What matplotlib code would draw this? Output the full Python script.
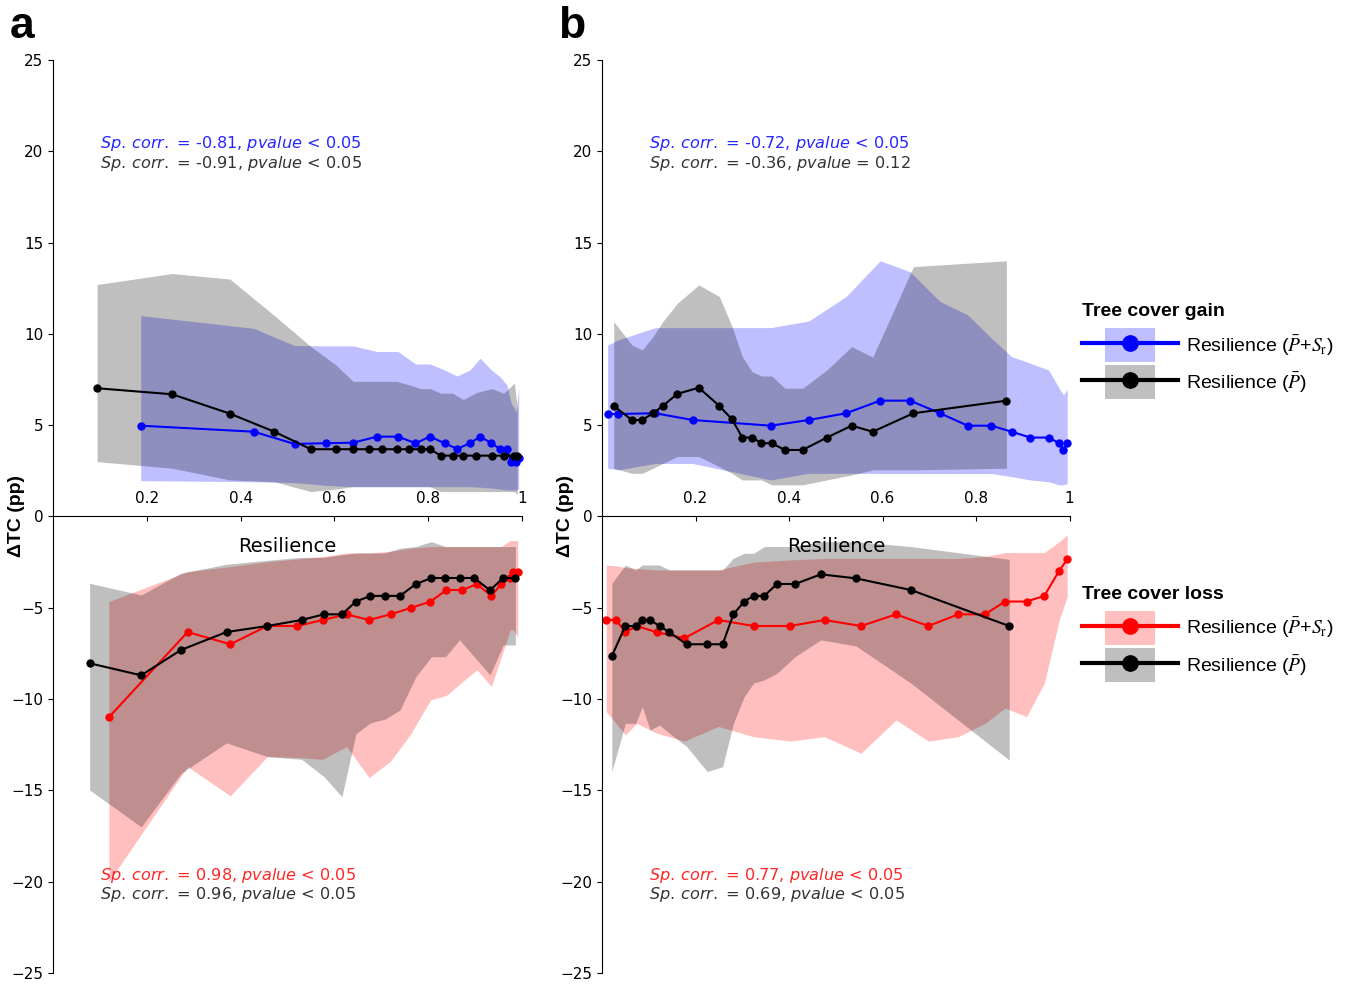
import matplotlib
matplotlib.use("Agg")
import matplotlib.pyplot as plt
import matplotlib.patches as mpatches
from matplotlib.lines import Line2D
from matplotlib.legend_handler import HandlerPatch

# ---------------- data ----------------
# panel a, tree cover gain
a_gain_sr_x = [0.187, 0.428, 0.515, 0.582, 0.640, 0.691, 0.736, 0.773, 0.804, 0.835,
               0.862, 0.889, 0.911, 0.935, 0.953, 0.968, 0.977, 0.988, 0.993]
a_gain_sr_y = [4.97, 4.64, 3.97, 4.01, 4.04, 4.37, 4.37, 4.01, 4.37, 4.01,
               3.70, 4.01, 4.37, 4.01, 3.70, 3.70, 3.0, 3.0, 3.2]
a_gain_sr_hi = [11.0, 10.3, 9.36, 9.34, 9.34, 9.03, 9.03, 8.35, 8.35, 8.02,
                7.69, 8.02, 8.66, 8.02, 7.66, 7.2, 6.2, 5.74, 7.04]
a_gain_sr_lo = [1.96, 1.9, 1.85, 1.7, 1.63, 1.63, 1.63, 1.63, 1.63, 1.63,
                1.63, 1.63, 1.6, 1.55, 1.5, 1.45, 1.45, 1.45, 1.5]

a_gain_p_x = [0.094, 0.254, 0.377, 0.472, 0.550, 0.603, 0.640, 0.674, 0.701, 0.733,
              0.760, 0.784, 0.804, 0.827, 0.852, 0.875, 0.903, 0.936, 0.961, 0.984, 0.990]
a_gain_p_y = [7.02, 6.69, 5.63, 4.64, 3.68, 3.68, 3.68, 3.68, 3.68, 3.68,
              3.68, 3.68, 3.68, 3.33, 3.33, 3.33, 3.33, 3.33, 3.33, 3.33, 3.33]
a_gain_p_hi = [12.7, 13.3, 13.0, 11.0, 9.3, 8.3, 7.4, 7.4, 7.4, 7.4,
               7.2, 7.0, 7.0, 6.75, 6.75, 6.4, 6.78, 7.0, 6.75, 7.3, 5.9]
a_gain_p_lo = [3.0, 2.64, 2.0, 1.9, 1.36, 1.5, 1.63, 1.63, 1.63, 1.63,
               1.63, 1.63, 1.63, 1.36, 1.36, 1.36, 1.36, 1.36, 1.36, 1.36, 1.2]

# panel a, tree cover loss
a_loss_sr_x = [0.119, 0.287, 0.378, 0.457, 0.521, 0.575, 0.626, 0.674, 0.720, 0.763,
               0.805, 0.839, 0.873, 0.904, 0.935, 0.956, 0.975, 0.981, 0.991]
a_loss_sr_y = [-11.0, -6.33, -7.0, -6.0, -6.0, -5.67, -5.36, -5.67, -5.36, -5.01,
               -4.66, -4.03, -4.03, -3.70, -4.35, -3.70, -3.37, -3.02, -3.02]
a_loss_sr_hi = [-4.66, -3.02, -2.75, -2.48, -2.33, -2.2, -2.0, -2.0, -1.9, -1.74,
                -1.65, -1.65, -1.65, -1.65, -1.65, -1.65, -1.32, -1.32, -1.32]
a_loss_sr_lo = [-20.0, -13.7, -15.3, -13.15, -13.2, -13.3, -12.6, -14.3, -13.4, -11.9,
                -10.05, -9.8, -9.05, -8.4, -9.3, -7.7, -6.2, -6.2, -6.6]

a_loss_p_x = [0.078, 0.188, 0.273, 0.370, 0.457, 0.530, 0.578, 0.616, 0.646, 0.677,
              0.708, 0.740, 0.774, 0.807, 0.837, 0.867, 0.898, 0.932, 0.960, 0.986]
a_loss_p_y = [-8.04, -8.70, -7.31, -6.33, -6.0, -5.67, -5.36, -5.36, -4.66, -4.35,
              -4.35, -4.35, -3.70, -3.37, -3.37, -3.37, -3.37, -4.04, -3.37, -3.37]
a_loss_p_hi = [-3.66, -4.3, -3.11, -2.62, -2.4, -2.24, -2.24, -2.1, -2.0, -2.0,
               -2.0, -1.74, -1.65, -1.38, -1.65, -1.65, -1.65, -1.65, -1.65, -1.65]
a_loss_p_lo = [-14.98, -17.0, -14.07, -12.4, -13.15, -13.3, -14.25, -15.35, -11.9, -11.3,
               -11.1, -10.6, -8.77, -7.68, -7.68, -6.76, -7.68, -8.68, -7.04, -7.04]

# panel b, tree cover gain
b_gain_sr_x = [0.012, 0.035, 0.114, 0.194, 0.361, 0.442, 0.522, 0.595, 0.659, 0.723,
               0.782, 0.833, 0.876, 0.916, 0.955, 0.978, 0.987, 0.995]
b_gain_sr_y = [5.61, 5.61, 5.65, 5.28, 4.97, 5.28, 5.65, 6.34, 6.34, 5.65,
               4.97, 4.97, 4.64, 4.32, 4.32, 4.01, 3.64, 4.01]
b_gain_sr_hi = [9.39, 9.67, 10.34, 10.34, 10.34, 10.7, 12.04, 14.0, 13.4, 11.77,
                11.04, 9.76, 8.75, 8.39, 8.02, 7.02, 6.65, 6.96]
b_gain_sr_lo = [2.64, 2.55, 2.9, 2.9, 2.0, 2.36, 2.36, 2.35, 2.35, 2.35,
                2.35, 2.35, 2.18, 2.0, 1.9, 1.73, 1.73, 1.8]

b_gain_p_x = [0.025, 0.064, 0.086, 0.109, 0.130, 0.161, 0.207, 0.251, 0.278, 0.300,
              0.321, 0.341, 0.363, 0.391, 0.429, 0.481, 0.534, 0.579, 0.666, 0.865]
b_gain_p_y = [6.05, 5.28, 5.28, 5.65, 6.05, 6.71, 7.05, 6.05, 5.32, 4.32,
              4.32, 4.01, 4.01, 3.64, 3.64, 4.32, 4.97, 4.64, 5.65, 6.34]
b_gain_p_hi = [10.67, 9.39, 9.12, 9.85, 10.67, 11.67, 12.68, 12.04, 10.4, 8.75,
               7.93, 7.69, 7.69, 7.02, 7.02, 8.02, 9.3, 8.72, 13.68, 14.0]
b_gain_p_lo = [2.64, 2.36, 2.36, 2.64, 2.9, 3.28, 3.28, 2.72, 2.36, 2.0,
               2.0, 2.0, 1.73, 1.73, 1.73, 2.0, 2.27, 2.55, 2.55, 2.64]

# panel b, tree cover loss
b_loss_sr_x = [0.009, 0.030, 0.050, 0.074, 0.117, 0.176, 0.249, 0.324, 0.402, 0.476,
               0.554, 0.629, 0.698, 0.762, 0.819, 0.862, 0.908, 0.946, 0.978, 0.995]
b_loss_sr_y = [-5.67, -5.67, -6.34, -6.0, -6.34, -6.67, -5.67, -6.0, -6.0, -5.67,
               -6.0, -5.36, -6.0, -5.36, -5.36, -4.66, -4.66, -4.35, -2.97, -2.35]
b_loss_sr_hi = [-2.66, -2.7, -2.8, -2.85, -2.93, -2.93, -2.93, -2.5, -2.38, -2.3,
                -2.3, -2.3, -2.3, -2.3, -2.2, -1.98, -1.98, -1.98, -1.38, -1.01]
b_loss_sr_lo = [-10.69, -11.33, -11.97, -11.33, -11.87, -12.3, -11.5, -12.06, -12.3, -12.06,
                -12.97, -11.14, -12.3, -12.06, -11.33, -10.5, -10.96, -9.13, -5.67, -4.39]

b_loss_p_x = [0.021, 0.050, 0.072, 0.086, 0.103, 0.123, 0.144, 0.181, 0.225, 0.258,
              0.281, 0.304, 0.324, 0.347, 0.374, 0.413, 0.468, 0.543, 0.661, 0.871]
b_loss_p_y = [-7.64, -6.0, -6.0, -5.67, -5.67, -6.0, -6.34, -7.0, -7.0, -7.0,
              -5.36, -4.66, -4.35, -4.35, -3.70, -3.70, -3.17, -3.39, -4.03, -6.0]
b_loss_p_hi = [-3.66, -2.66, -2.93, -2.66, -2.66, -2.66, -2.93, -2.93, -2.93, -2.93,
               -2.29, -2.02, -2.02, -1.65, -1.65, -1.65, -1.38, -1.38, -1.65, -2.35]
b_loss_p_lo = [-13.97, -11.33, -11.33, -10.42, -11.7, -11.42, -11.87, -12.6, -13.97, -13.7,
               -11.33, -9.87, -9.13, -8.95, -8.59, -7.68, -6.76, -7.09, -9.13, -13.34]

# spearman annotations: (gain colour line, gain black line, loss colour line, loss black line)
a_corr = ["-0.81, $pvalue$ < 0.05", "-0.91, $pvalue$ < 0.05",
          "0.98, $pvalue$ < 0.05", "0.96, $pvalue$ < 0.05"]
b_corr = ["-0.72, $pvalue$ < 0.05", "-0.36, $pvalue$ = 0.12",
          "0.77, $pvalue$ < 0.05", "0.69, $pvalue$ < 0.05"]

x_ticks = [0.2, 0.4, 0.6, 0.8, 1.0]
x_ticklabels = ["0.2", "0.4", "0.6", "0.8", "1"]
y_ticks = [-25, -20, -15, -10, -5, 0, 5, 10, 15, 20, 25]


def series(ax, x, y, lo, hi, color):
    ax.fill_between(x, lo, hi, color=color, alpha=0.25, linewidth=0)
    ax.plot(x, y, color=color, lw=1.5, marker="o", ms=5, clip_on=False)


def panel(ax, gain_sr, gain_p, loss_sr, loss_p, corr):
    series(ax, *gain_sr, "blue")
    series(ax, *loss_sr, "red")
    series(ax, *gain_p, "black")
    series(ax, *loss_p, "black")

    ax.set_xlim(0, 1)
    ax.set_ylim(-25, 25)
    ax.spines["top"].set_visible(False)
    ax.spines["right"].set_visible(False)
    ax.spines["bottom"].set_position(("data", 0))
    ax.set_xticks(x_ticks)
    ax.set_xticklabels(x_ticklabels)
    ax.set_yticks(y_ticks)
    ax.tick_params(axis="x", labelsize=11, pad=-22)
    ax.tick_params(axis="y", labelsize=11)
    ax.set_ylabel("ΔTC (pp)", fontsize=14, fontweight="bold", family="Liberation Sans")
    ax.yaxis.set_label_coords(-0.06, 0.5)
    ax.text(0.5, -1.65, "Resilience", fontsize=14, ha="center", va="center")

    sp = r"$Sp.\,corr.$ = "
    ax.text(0.10, 20.4, sp + corr[0], color="blue", alpha=0.85, fontsize=11.6, va="center")
    ax.text(0.10, 19.35, sp + corr[1], color="black", alpha=0.8, fontsize=11.6, va="center")
    ax.text(0.10, -19.65, sp + corr[2], color="red", alpha=0.85, fontsize=11.6, va="center")
    ax.text(0.10, -20.7, sp + corr[3], color="black", alpha=0.8, fontsize=11.6, va="center")


fig = plt.figure(figsize=(13.67, 9.85), dpi=100)
ax_a = fig.add_axes([0.0388, 0.0122, 0.343, 0.927])
ax_b = fig.add_axes([0.4404, 0.0122, 0.342, 0.927])

panel(ax_a,
      (a_gain_sr_x, a_gain_sr_y, a_gain_sr_lo, a_gain_sr_hi),
      (a_gain_p_x, a_gain_p_y, a_gain_p_lo, a_gain_p_hi),
      (a_loss_sr_x, a_loss_sr_y, a_loss_sr_lo, a_loss_sr_hi),
      (a_loss_p_x, a_loss_p_y, a_loss_p_lo, a_loss_p_hi),
      a_corr)
panel(ax_b,
      (b_gain_sr_x, b_gain_sr_y, b_gain_sr_lo, b_gain_sr_hi),
      (b_gain_p_x, b_gain_p_y, b_gain_p_lo, b_gain_p_hi),
      (b_loss_sr_x, b_loss_sr_y, b_loss_sr_lo, b_loss_sr_hi),
      (b_loss_p_x, b_loss_p_y, b_loss_p_lo, b_loss_p_hi),
      b_corr)

fig.text(0.007, 0.9615, "a", fontsize=32, fontweight="bold", family="Liberation Sans", va="baseline")
fig.text(0.408, 0.9615, "b", fontsize=32, fontweight="bold", family="Liberation Sans", va="baseline")


# legends: short shaded box behind a thick line with a marker
def box(legend, orig_handle, xdescent, ydescent, width, height, fontsize):
    w = width * 0.52
    return mpatches.Rectangle((-xdescent + (width - w) / 2, -ydescent - height * 0.3),
                              w, height * 1.6)


def handle(color):
    patch = mpatches.Patch(color=color, alpha=0.25, linewidth=0)
    line = Line2D([], [], color=color, lw=3, marker="o", ms=11)
    return (patch, line)


lab_sr = r"Resilience ($\bar{P}$+$S_\mathrm{r}$)"
lab_p = r"Resilience ($\bar{P}$)"

for title, col, ytop in [("Tree cover gain", "blue", 0.70), ("Tree cover loss", "red", 0.413)]:
    leg = fig.legend([handle(col), handle("black")], [lab_sr, lab_p],
                     loc="upper left", bbox_to_anchor=(0.786, ytop), frameon=False,
                     title=title, alignment="left",
                     prop=dict(family="Liberation Sans", size=14),
                     title_fontproperties=dict(family="Liberation Sans", weight="bold", size=14),
                     handlelength=4.9, handleheight=1.3, handletextpad=0.45,
                     labelspacing=0.66, borderaxespad=0,
                     handler_map={mpatches.Patch: HandlerPatch(patch_func=box)})
    for t in leg.get_texts():
        t.set_math_fontfamily("stix")

fig.savefig("out.png", dpi=100)
